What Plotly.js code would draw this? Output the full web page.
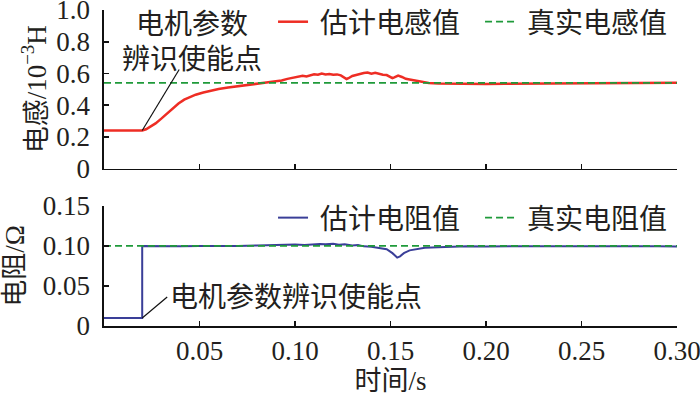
<!DOCTYPE html>
<html>
<head>
<meta charset="utf-8">
<script src="https://cdn.plot.ly/plotly-3.0.1.min.js"></script>
<style>html,body{margin:0;padding:0;background:#fff;}</style>
</head>
<body>
<div id="chart" style="width:700px;height:396px;"></div>
<script>
// ---- data ----
const tL = [0, 0.02, 0.022, 0.024, 0.027, 0.030, 0.033, 0.036, 0.039, 0.042, 0.045, 0.048, 0.052, 0.056, 0.060, 0.065, 0.070, 0.075, 0.080, 0.085, 0.090, 0.093, 0.096, 0.099, 0.102, 0.104, 0.106, 0.108, 0.110, 0.112, 0.114, 0.116, 0.118, 0.120, 0.122, 0.124, 0.126, 0.127, 0.128, 0.130, 0.132, 0.134, 0.136, 0.138, 0.140, 0.142, 0.144, 0.146, 0.148, 0.150, 0.151, 0.152, 0.154, 0.156, 0.158, 0.160, 0.163, 0.166, 0.170, 0.175, 0.180, 0.190, 0.200, 0.210, 0.220, 0.230, 0.240, 0.250, 0.260, 0.270, 0.280, 0.290, 0.295, 0.300];
const estL = [0.24, 0.24, 0.248, 0.262, 0.285, 0.315, 0.348, 0.38, 0.41, 0.435, 0.452, 0.466, 0.48, 0.492, 0.502, 0.511, 0.52, 0.528, 0.536, 0.543, 0.551, 0.556, 0.566, 0.574, 0.583, 0.586, 0.581, 0.59, 0.595, 0.592, 0.6, 0.594, 0.597, 0.592, 0.594, 0.588, 0.575, 0.565, 0.57, 0.584, 0.59, 0.597, 0.603, 0.606, 0.598, 0.604, 0.596, 0.592, 0.59, 0.58, 0.57, 0.575, 0.586, 0.578, 0.566, 0.562, 0.556, 0.548, 0.54, 0.537, 0.536, 0.535, 0.533, 0.535, 0.536, 0.537, 0.536, 0.538, 0.539, 0.538, 0.54, 0.541, 0.543, 0.541];
const trueLt = [0, 0.30];
const trueL = [0.54, 0.54];

const tR = [0, 0.02, 0.02, 0.03, 0.04, 0.05, 0.06, 0.07, 0.08, 0.085, 0.09, 0.095, 0.10, 0.105, 0.11, 0.113, 0.116, 0.12, 0.123, 0.126, 0.13, 0.133, 0.136, 0.14, 0.144, 0.148, 0.151, 0.1535, 0.155, 0.157, 0.16, 0.164, 0.168, 0.175, 0.18, 0.19, 0.2, 0.21, 0.22, 0.23, 0.24, 0.25, 0.26, 0.27, 0.28, 0.29, 0.3];
const estR = [0.01, 0.01, 0.1, 0.0995, 0.0995, 0.1, 0.0998, 0.1, 0.1005, 0.101, 0.1012, 0.1015, 0.1018, 0.1013, 0.1022, 0.1025, 0.102, 0.1028, 0.1015, 0.1022, 0.1005, 0.1012, 0.0995, 0.099, 0.0975, 0.096, 0.091, 0.0855, 0.087, 0.091, 0.0945, 0.0965, 0.0978, 0.0985, 0.099, 0.0995, 0.0993, 0.0997, 0.0996, 0.0995, 0.0997, 0.0996, 0.0995, 0.0997, 0.0996, 0.0995, 0.0993];
const trueRt = [0, 0.30];
const trueR = [0.10, 0.10];

const xTicks = [0.05, 0.10, 0.15, 0.20, 0.25, 0.30];
const xTickText = ['0.05', '0.10', '0.15', '0.20', '0.25', '0.30'];
const yLTicks = [0, 0.2, 0.4, 0.6, 0.8, 1.0];
const yLTickText = ['0', '0.2', '0.4', '0.6', '0.8', '1.0'];
const yRTicks = [0, 0.05, 0.10, 0.15];
const yRTickText = ['0', '0.05', '0.10', '0.15'];

const FONT = 'Liberation Serif, Times New Roman, Noto Sans CJK SC, serif';
const TXT = '#231f20';
const FS = 28;

const traces = [
  {x: tL, y: estL, name: ' 估计电感值', type: 'scatter', mode: 'lines', xaxis: 'x', yaxis: 'y',
   line: {color: '#ee2d24', width: 2.5}, legend: 'legend'},
  {x: trueLt, y: trueL, name: ' 真实电感值', type: 'scatter', mode: 'lines', xaxis: 'x', yaxis: 'y',
   line: {color: '#1f9a3a', width: 1.8, dash: '7px,4px'}, legend: 'legend'},
  {x: tR, y: estR, name: ' 估计电阻值', type: 'scatter', mode: 'lines', xaxis: 'x2', yaxis: 'y2',
   line: {color: '#3a3f98', width: 2}, legend: 'legend2'},
  {x: trueRt, y: trueR, name: ' 真实电阻值', type: 'scatter', mode: 'lines', xaxis: 'x2', yaxis: 'y2',
   line: {color: '#1f9a3a', width: 1.8, dash: '7px,4px'}, legend: 'legend2'}
];

const axBase = {
  showline: true, linecolor: '#111', linewidth: 1.6, mirror: false,
  ticks: 'inside', ticklen: 5, tickwidth: 1.6, tickcolor: '#111',
  showgrid: false, zeroline: false, ticklabeloverflow: 'allow',
  tickfont: {family: FONT, size: 27, color: TXT}
};

const legBase = {
  orientation: 'h', bgcolor: 'rgba(0,0,0,0)', borderwidth: 0,
  font: {family: FONT, size: FS, color: TXT},
  xanchor: 'left', yanchor: 'middle', entrywidth: 162, entrywidthmode: 'pixels',
  tracegroupgap: 0
};

const layout = {
  width: 700, height: 396,
  margin: {l: 104, r: 23, t: 10, b: 70, autoexpand: false},
  paper_bgcolor: '#fff', plot_bgcolor: '#fff',
  showlegend: true,
  font: {family: FONT, size: FS, color: TXT},
  xaxis: Object.assign({}, axBase, {domain: [0, 1], range: [0, 0.30], tickvals: xTicks, ticktext: xTickText,
    showticklabels: false, anchor: 'y'}),
  yaxis: Object.assign({}, axBase, {domain: [0.498, 1], range: [0, 1.0], tickvals: yLTicks, ticktext: yLTickText,
    ticklabelstandoff: 7, anchor: 'x',
    title: {text: '电感/10<sup>−3</sup>H', font: {family: FONT, size: 27, color: TXT}, standoff: 2}}),
  xaxis2: Object.assign({}, axBase, {domain: [0, 1], range: [0, 0.30], tickvals: xTicks, ticktext: xTickText,
    anchor: 'y2', title: {text: '时间/s', font: {family: FONT, size: 27, color: TXT}, standoff: 2}}),
  yaxis2: Object.assign({}, axBase, {domain: [0, 0.380], range: [0, 0.15], tickvals: yRTicks, ticktext: yRTickText,
    ticklabelstandoff: 7, anchor: 'x2',
    title: {text: '电阻/Ω', font: {family: FONT, size: 27, color: TXT}, standoff: 10}}),
  legend: Object.assign({}, legBase, {x: 0.295, y: 0.962}),
  legend2: Object.assign({}, legBase, {x: 0.295, y: 0.342}),
  annotations: [
    {xref: 'x', yref: 'y', x: 0.046, y: 0.91, text: '电机参数', showarrow: false,
     xanchor: 'center', yanchor: 'middle', font: {family: FONT, size: FS, color: TXT}},
    {xref: 'x', yref: 'y', x: 0.046, y: 0.69, text: '辨识使能点', showarrow: false,
     xanchor: 'center', yanchor: 'middle', font: {family: FONT, size: FS, color: TXT}},
    {xref: 'x2', yref: 'y2', x: 0.0335, y: 0.036, text: '电机参数辨识使能点', showarrow: false,
     xanchor: 'left', yanchor: 'middle', font: {family: FONT, size: FS, color: TXT}}
  ],
  shapes: [
    {type: 'line', xref: 'x', yref: 'y', xsizemode: 'pixel', ysizemode: 'pixel',
     xanchor: 0.02, yanchor: 0.24, x0: 0, x1: 37, y0: 0, y1: 61, line: {color: '#111', width: 1.2}},
    {type: 'line', xref: 'x2', yref: 'y2', xsizemode: 'pixel', ysizemode: 'pixel',
     xanchor: 0.02, yanchor: 0.01, x0: 0, x1: 25, y0: 0, y1: 21, line: {color: '#111', width: 1.2}}
  ]
};

Plotly.newPlot('chart', traces, layout, {displayModeBar: false, staticPlot: true});
</script>
</body>
</html>
